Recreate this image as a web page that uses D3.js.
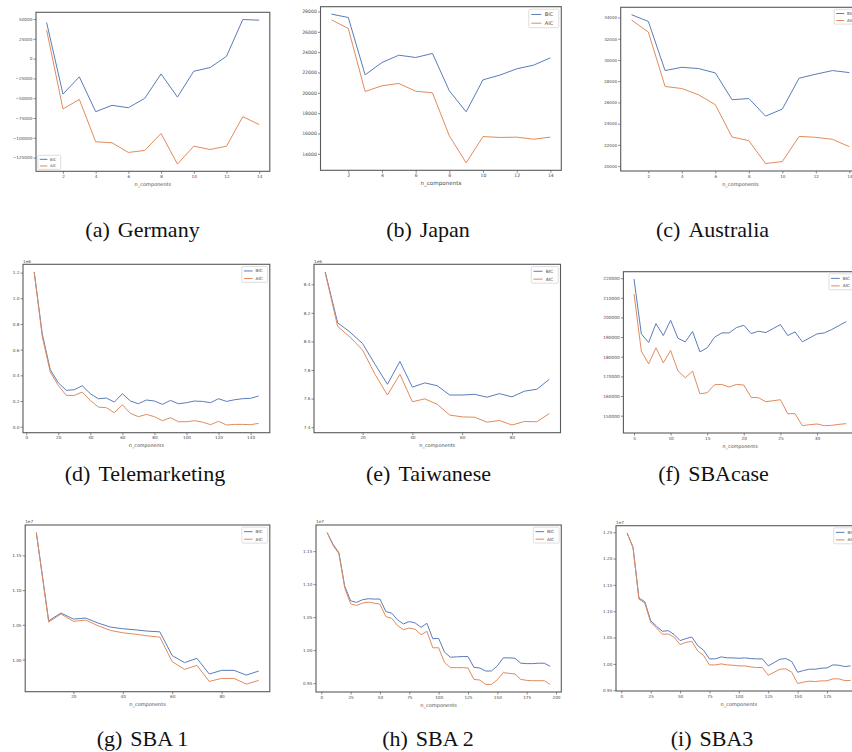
<!DOCTYPE html>
<html><head><meta charset="utf-8">
<script src="https://cdn.jsdelivr.net/npm/d3@7"></script>
<style>body{margin:0;background:#fff}svg{display:block}</style>
</head><body><svg id="c" width="852" height="752"></svg>
<script>
// ---------- x (n_components) ----------
const nc1to14 = [1,2,3,4,5,6,7,8,9,10,11,12,13,14];
const nc5to145 = [5,10,15,20,25,30,35,40,45,50,55,60,65,70,75,80,85,90,95,100,105,110,115,120,125,130,135,140,145];
const nc5to95 = [5,10,15,20,25,30,35,40,45,50,55,60,65,70,75,80,85,90,95];
const nc5to34 = [5,6,7,8,9,10,11,12,13,14,15,16,17,18,19,20,21,22,23,24,25,26,27,28,29,30,31,32,33,34];
const nc5to195 = [5,10,15,20,25,30,35,40,45,50,55,60,65,70,75,80,85,90,95,100,105,110,115,120,125,130,135,140,145,150,155,160,165,170,175,180,185,190,195];

// ---------- series ----------
const germanyBIC = [45600,-44800,-23000,-67000,-59000,-62000,-50200,-19300,-48600,-15900,-11300,2900,49400,48600];
const germanyAIC = [36000,-63600,-51500,-105000,-106300,-118500,-116000,-94600,-133200,-110600,-114800,-110600,-73300,-83300];
const japanBIC = [27740,27410,21770,22980,23700,23475,23870,20200,18130,21280,21740,22360,22720,23440];
const japanAIC = [27180,26330,20130,20690,20920,20160,20000,15770,13110,15700,15610,15640,15440,15640];
const australiaBIC = [34260,33630,29000,29310,29190,28780,26250,26370,24710,25370,28280,28660,29000,28810];
const australiaAIC = [33760,32630,27500,27310,26720,25780,22740,22400,20240,20430,22800,22710,22520,21830];
// values in units of 1e6
const teleBIC = [1.205,0.725,0.444,0.343,0.283,0.288,0.319,0.257,0.218,0.223,0.192,0.257,0.200,0.179,0.208,0.200,0.174,0.205,0.179,0.187,0.200,0.197,0.187,0.218,0.197,0.210,0.218,0.221,0.239];
const teleAIC = [1.205,0.704,0.426,0.322,0.244,0.244,0.270,0.205,0.153,0.148,0.109,0.171,0.104,0.078,0.096,0.078,0.047,0.070,0.039,0.039,0.047,0.036,0.016,0.042,0.013,0.018,0.018,0.016,0.026];
const taiwanBIC = [8.486,8.130,8.065,7.985,7.840,7.700,7.860,7.680,7.710,7.690,7.625,7.625,7.630,7.610,7.635,7.612,7.652,7.665,7.735];
const taiwanAIC = [8.480,8.105,8.030,7.940,7.770,7.625,7.770,7.578,7.598,7.560,7.485,7.472,7.470,7.435,7.447,7.415,7.440,7.438,7.495];
const sbacaseBIC = [219540,191620,187230,196870,190780,198560,189420,187560,192810,182490,184520,189930,192130,192130,194840,196020,191790,192980,192300,194330,196360,190780,192640,187560,189590,191620,192130,193820,195850,197880];
const sbacaseAIC = [211930,182830,176400,184520,176900,183160,172840,169290,172670,161170,161680,165740,165910,164550,165910,165570,159310,159140,157110,157610,158120,151020,151020,144920,145430,145770,144920,145090,145600,145940];
// values in units of 1e7
const sba1BIC = [1.1827,1.0559,1.0670,1.0583,1.0598,1.0526,1.0468,1.0444,1.0429,1.0410,1.0400,1.0058,0.9957,1.0019,0.9793,0.9846,0.9846,0.9778,0.9836];
const sba1AIC = [1.1827,1.0540,1.0656,1.0550,1.0569,1.0487,1.0420,1.0386,1.0366,1.0342,1.0323,0.9971,0.9860,0.9918,0.9687,0.9730,0.9730,0.9648,0.9701];
const sba2BIC = [1.1781,1.1603,1.1476,1.0967,1.0748,1.0723,1.0763,1.0779,1.0774,1.0774,1.0585,1.0560,1.0458,1.0397,1.0433,1.0412,1.0346,1.0407,1.0173,1.0178,0.9969,0.9893,0.9898,0.9903,0.9903,0.9740,0.9730,0.9684,0.9684,0.9761,0.9883,0.9883,0.9878,0.9802,0.9796,0.9796,0.9802,0.9802,0.9756];
const sba2AIC = [1.1781,1.1588,1.1461,1.0942,1.0702,1.0677,1.0712,1.0728,1.0712,1.0697,1.0509,1.0483,1.0372,1.0310,1.0336,1.0316,1.0234,1.0285,1.0036,1.0036,0.9812,0.9735,0.9735,0.9735,0.9730,0.9557,0.9547,0.9481,0.9481,0.9552,0.9659,0.9649,0.9639,0.9557,0.9542,0.9537,0.9537,0.9537,0.9481];
const sba3BIC = [1.2481,1.2216,1.1250,1.1181,1.0821,1.0713,1.0619,1.0631,1.0556,1.0442,1.0480,1.0511,1.0347,1.0259,1.0095,1.0095,1.0133,1.0114,1.0114,1.0107,1.0114,1.0101,1.0095,1.0095,0.9962,1.0025,1.0088,1.0101,1.0044,0.9842,0.9874,0.9899,0.9899,0.9918,0.9924,0.9981,0.9975,0.9949,0.9962];
const sba3AIC = [1.2481,1.2203,1.1231,1.1155,1.0789,1.0682,1.0562,1.0568,1.0505,1.0366,1.0410,1.0429,1.0246,1.0158,0.9981,0.9981,1.0000,0.9981,0.9975,0.9962,0.9962,0.9943,0.9931,0.9931,0.9785,0.9842,0.9899,0.9905,0.9842,0.9628,0.9653,0.9672,0.9665,0.9678,0.9678,0.9716,0.9716,0.9684,0.9684];

// ---------- ticks ----------
const ticksX_a = [2,4,6,8,10,12,14];
const ticksY_a = [-125000,-100000,-75000,-50000,-25000,0,25000,50000];
const ticksY_b = [14000,16000,18000,20000,22000,24000,26000,28000];
const ticksY_c = [20000,22000,24000,26000,28000,30000,32000,34000];
const ticksX_d = [0,20,40,60,80,100,120,140];
const ticksY_d = [0.0,0.2,0.4,0.6,0.8,1.0,1.2];
const ticksX_e = [20,40,60,80];
const ticksY_e = [7.4,7.6,7.8,8.0,8.2,8.4];
const ticksX_f = [5,10,15,20,25,30];
const ticksY_f = [150000,160000,170000,180000,190000,200000,210000,220000];
const ticksX_g = [20,40,60,80];
const ticksY_g = [1.00,1.05,1.10,1.15];
const ticksX_h = [0,25,50,75,100,125,150,175,200];
const ticksY_h = [0.95,1.00,1.05,1.10,1.15];
const ticksX_i = [0,25,50,75,100,125,150,175,200];
const ticksY_i = [0.95,1.00,1.05,1.10,1.15,1.20,1.25];

const seriesNames = ["BIC","AIC"];
const colors = ["#5a7cbb","#e08b5d"];

const panels = [
  {x:nc1to14,bic:germanyBIC,aic:germanyAIC,frame:[36,12.3,269.8,171.3],tx:ticksX_a,ty:ticksY_a,fmt:"d",off:null,leg:"ll",ft:4.2,fl:5.0,fg:3.8,cap:"(a)",name:"Germany",cx:142.5,cy:237},
  {x:nc1to14,bic:japanBIC,aic:japanAIC,frame:[320.5,6.7,561.3,170.3],tx:ticksX_a,ty:ticksY_b,fmt:"d",off:null,leg:"ur",ft:4.6,fl:5.6,fg:5.0,cap:"(b)",name:"Japan",cx:428,cy:237},
  {x:nc1to14,bic:australiaBIC,aic:australiaAIC,frame:[620.7,7.3,860.2,171],tx:ticksX_a,ty:ticksY_c,fmt:"d",off:null,leg:"ur",ft:4.0,fl:5.0,fg:4.0,cap:"(c)",name:"Australia",cx:712.5,cy:237},
  {x:nc5to145,bic:teleBIC,aic:teleAIC,frame:[23,264.3,269.8,432.7],tx:ticksX_d,ty:ticksY_d,fmt:".1f",off:"1e6",leg:"ur",ft:4.2,fl:4.8,fg:4.3,cap:"(d)",name:"Telemarketing",cx:145,cy:481},
  {x:nc5to95,bic:taiwanBIC,aic:taiwanAIC,frame:[314,264.3,560.5,432.7],tx:ticksX_e,ty:ticksY_e,fmt:".1f",off:"1e6",leg:"ur",ft:4.2,fl:4.9,fg:4.5,cap:"(e)",name:"Taiwanese",cx:428.5,cy:481},
  {x:nc5to34,bic:sbacaseBIC,aic:sbacaseAIC,frame:[623.4,271.7,856.9,433],tx:ticksX_f,ty:ticksY_f,fmt:"d",off:null,leg:"ur",ft:4.3,fl:4.8,fg:4.3,cap:"(f)",name:"SBAcase",cx:713.5,cy:481},
  {x:nc5to95,bic:sba1BIC,aic:sba1AIC,frame:[25.2,525,269.8,691.7],tx:ticksX_g,ty:ticksY_g,fmt:".2f",off:"1e7",leg:"ur",ft:4.2,fl:5.0,fg:4.3,cap:"(g)",name:"SBA 1",cx:142.5,cy:746},
  {x:nc5to195,bic:sba2BIC,aic:sba2AIC,frame:[316,525,561.3,692],tx:ticksX_h,ty:ticksY_h,fmt:".2f",off:"1e7",leg:"ur",ft:4.2,fl:5.0,fg:4.3,cap:"(h)",name:"SBA 2",cx:428,cy:746},
  {x:nc5to195,bic:sba3BIC,aic:sba3AIC,frame:[616,525.7,861.7,691],tx:ticksX_i,ty:ticksY_i,fmt:".2f",off:"1e7",leg:"ur",ft:4.2,fl:5.0,fg:4.3,cap:"(i)",name:"SBA3",cx:712,cy:746}
];

const svg = d3.select("#c");
const FR = "#5a5a5a", TXT = "#4a4a4a";
const sans = "DejaVu Sans, sans-serif";

panels.forEach((p,pi) => {
  const [l,t,r,b] = p.frame;
  const xe = d3.extent(p.x), xm = 0.05*(xe[1]-xe[0]);
  const all = p.bic.concat(p.aic);
  const ye = d3.extent(all), ym = 0.05*(ye[1]-ye[0]);
  const xs = d3.scaleLinear().domain([xe[0]-xm, xe[1]+xm]).range([l,r]);
  const ys = d3.scaleLinear().domain([ye[0]-ym, ye[1]+ym]).range([b,t]);
  const g = svg.append("g");
  const cid = "clip"+pi;
  g.append("clipPath").attr("id",cid).append("rect").attr("x",l).attr("y",t).attr("width",r-l).attr("height",b-t);

  // axes
  const fmt = d3.format(p.fmt);
  const ax = g.append("g").attr("transform",`translate(0,${b})`)
    .call(d3.axisBottom(xs).tickValues(p.tx).tickFormat(d3.format("d")).tickSize(2.5).tickPadding(1.2));
  const ay = g.append("g").attr("transform",`translate(${l},0)`)
    .call(d3.axisLeft(ys).tickValues(p.ty).tickFormat(fmt).tickSize(2.5).tickPadding(1.2));
  [ax,ay].forEach(a => {
    a.select(".domain").remove();
    a.selectAll("line").attr("stroke",FR).attr("stroke-width",0.7);
    a.selectAll("text").attr("fill",TXT).attr("font-family",sans).attr("font-size",p.ft);
  });

  // lines
  const line = d3.line().x((d,i)=>xs(p.x[i])).y(d=>ys(d));
  [p.bic,p.aic].forEach((s,k) => {
    g.append("path").attr("d",line(s)).attr("fill","none").attr("stroke",colors[k])
      .attr("stroke-width",1.0).attr("stroke-linejoin","round").attr("clip-path",`url(#${cid})`);
  });

  // frame
  g.append("rect").attr("x",l).attr("y",t).attr("width",r-l).attr("height",b-t)
    .attr("fill","none").attr("stroke",FR).attr("stroke-width",1.1);

  // x label
  g.append("text").attr("x",(l+r)/2).attr("y",b+14.5).attr("text-anchor","middle")
    .attr("font-family",sans).attr("font-size",p.fl).attr("fill",TXT).text("n_components");

  // offset text
  if (p.off) g.append("text").attr("x",l).attr("y",t-1.8).attr("font-family",sans)
    .attr("font-size",p.ft).attr("fill",TXT).text(p.off);

  // legend
  const f = p.fg, bw = 6.0*f, bh = 3.7*f;
  const bx = p.leg==="ur" ? r-0.5*f-bw : l+0.5*f;
  const by = p.leg==="ur" ? t+0.5*f : b-0.5*f-bh;
  const lg = g.append("g");
  lg.append("rect").attr("x",bx).attr("y",by).attr("width",bw).attr("height",bh).attr("rx",0.3*f)
    .attr("fill","#fff").attr("fill-opacity",0.8).attr("stroke","#d0d0d0").attr("stroke-width",0.7);
  seriesNames.forEach((nm,k) => {
    const yy = by + 1.05*f + k*1.75*f;
    lg.append("line").attr("x1",bx+0.5*f).attr("x2",bx+2.5*f).attr("y1",yy).attr("y2",yy)
      .attr("stroke",colors[k]).attr("stroke-width",1.0);
    lg.append("text").attr("x",bx+3.2*f).attr("y",yy).attr("dy","0.35em").attr("font-family",sans)
      .attr("font-size",f).attr("fill",TXT).text(nm);
  });

  // caption
  const cap = svg.append("text").attr("x",p.cx).attr("y",p.cy).attr("text-anchor","middle")
    .attr("font-family","Liberation Serif, serif").attr("font-size",22).attr("fill","#111");
  cap.append("tspan").text(p.cap);
  cap.append("tspan").attr("dx",8).text(p.name);
});
</script>
</body></html>
